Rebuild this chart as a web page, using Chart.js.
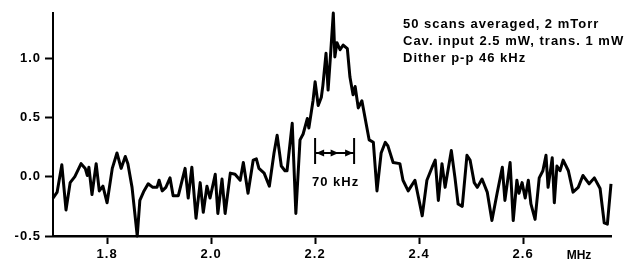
<!DOCTYPE html>
<html>
<head>
<meta charset="utf-8">
<script src="https://cdn.jsdelivr.net/npm/chart.js@4/dist/chart.umd.min.js"></script>
<style>
  html, body { margin: 0; padding: 0; background: #fff; }
  #wrap { width: 625px; height: 271px; position: relative; }
</style>
</head>
<body>
<div id="wrap"><canvas id="chart"></canvas></div>
<script>
// Averaged cavity scan (MHz vs. signal).
const freqMHz = [
  1.696, 1.704, 1.713, 1.721, 1.729, 1.738, 1.750, 1.758, 1.762, 1.765,
  1.771, 1.779, 1.785, 1.792, 1.800, 1.810, 1.819, 1.827, 1.835, 1.840,
  1.848, 1.858, 1.863, 1.871, 1.879, 1.888, 1.896, 1.900, 1.906, 1.913,
  1.921, 1.927, 1.937, 1.950, 1.956, 1.963, 1.971, 1.979, 1.985, 1.992,
  1.998, 2.008, 2.013, 2.021, 2.027, 2.037, 2.046, 2.056, 2.062, 2.071,
  2.081, 2.087, 2.092, 2.102, 2.112, 2.121, 2.127, 2.135, 2.142, 2.146,
  2.156, 2.163, 2.171, 2.177, 2.185, 2.188, 2.196, 2.200, 2.206, 2.212,
  2.215, 2.221, 2.225, 2.229, 2.235, 2.238, 2.242, 2.248, 2.254, 2.262,
  2.267, 2.273, 2.277, 2.283, 2.290, 2.298, 2.304, 2.312, 2.319, 2.327,
  2.335, 2.340, 2.350, 2.363, 2.369, 2.379, 2.392, 2.406, 2.415, 2.425,
  2.431, 2.437, 2.444, 2.450, 2.462, 2.469, 2.475, 2.483, 2.492, 2.498,
  2.506, 2.512, 2.521, 2.531, 2.540, 2.550, 2.560, 2.565, 2.575, 2.581,
  2.588, 2.592, 2.598, 2.604, 2.610, 2.615, 2.623, 2.631, 2.638, 2.644,
  2.648, 2.656, 2.660, 2.665, 2.671, 2.677, 2.687, 2.696, 2.706, 2.715,
  2.727, 2.737, 2.748, 2.756, 2.762, 2.769
];
const signal = [
  -0.18, -0.13, 0.10, -0.28, -0.05, 0.00, 0.11, 0.07, 0.01, 0.08,
  -0.15, 0.11, -0.12, -0.08, -0.22, 0.07, 0.20, 0.07, 0.17, 0.11,
  -0.09, -0.50, -0.20, -0.12, -0.06, -0.09, -0.09, -0.03, -0.12, -0.09,
  -0.01, -0.16, -0.16, 0.07, -0.18, 0.08, -0.35, -0.05, -0.30, -0.08,
  -0.18, 0.02, -0.31, -0.02, -0.31, 0.03, 0.02, -0.03, 0.12, -0.14,
  0.14, 0.15, 0.07, 0.03, -0.08, 0.20, 0.35, 0.09, 0.05, 0.05,
  0.45, -0.31, 0.31, 0.36, 0.49, 0.41, 0.64, 0.80, 0.60, 0.67,
  0.77, 1.04, 0.73, 0.98, 1.38, 1.01, 1.13, 1.07, 1.11, 1.08,
  0.84, 0.69, 0.76, 0.58, 0.64, 0.45, 0.31, 0.29, -0.12, 0.20,
  0.29, 0.26, 0.12, 0.11, -0.03, -0.12, -0.03, -0.33, -0.03, 0.08,
  0.14, -0.20, 0.11, -0.09, 0.22, -0.01, -0.23, -0.25, 0.18, 0.14,
  -0.05, -0.09, -0.02, -0.13, -0.37, -0.14, 0.08, -0.20, 0.12, -0.37,
  -0.03, -0.14, -0.05, -0.18, -0.03, -0.23, -0.36, -0.01, 0.05, 0.18,
  -0.09, 0.16, -0.22, 0.09, 0.05, 0.14, 0.05, -0.13, -0.09, 0.01,
  -0.06, -0.01, -0.10, -0.39, -0.40, -0.06
];

const xTicks = [1.8, 2.0, 2.2, 2.4, 2.6];
const yTicks = [-0.5, 0.0, 0.5, 1.0];
const notes = ['50 scans averaged, 2 mTorr', 'Cav. input 2.5 mW, trans. 1 mW', 'Dither p-p 46 kHz'];
const markerFrom = 2.2;
const markerTo = 2.275;
const markerLabel = '70 kHz';
const unitLabel = 'MHz';

const FONT = "'Liberation Sans', Arial, sans-serif";

// the scanned figure has loose tracking; widen all text a little
const tracking = {
  id: 'tracking',
  beforeDraw(chart) { chart.ctx.letterSpacing = '1px'; },
  afterDraw(chart) { chart.ctx.letterSpacing = '0px'; },
};

// notes, unit label and the width marker
const annotations = {
  id: 'annotations',
  afterDraw(chart) {
    const ctx = chart.ctx;
    const x = chart.scales.x, y = chart.scales.y;
    ctx.save();
    ctx.letterSpacing = '1px';
    ctx.fillStyle = '#000';
    ctx.strokeStyle = '#000';
    ctx.font = `bold 13px ${FONT}`;
    ctx.textBaseline = 'middle';
    ctx.textAlign = 'left';
    notes.forEach((s, i) => ctx.fillText(s, 403, 24 + i * 17));

    ctx.textAlign = 'center';
    ctx.letterSpacing = '0px';
    ctx.font = `bold 12px ${FONT}`;
    ctx.fillText(unitLabel, 579, 256);

    const x1 = x.getPixelForValue(markerFrom), x2 = x.getPixelForValue(markerTo);
    const ym = y.getPixelForValue(0.2);
    ctx.lineWidth = 2;
    ctx.beginPath();
    ctx.moveTo(x1, ym - 15); ctx.lineTo(x1, ym + 11);
    ctx.moveTo(x2, ym - 15); ctx.lineTo(x2, ym + 11);
    ctx.moveTo(x1, ym); ctx.lineTo(x2, ym);
    ctx.stroke();
    const head = (tip, dir) => {
      ctx.beginPath();
      ctx.moveTo(tip, ym);
      ctx.lineTo(tip - dir * 8, ym - 3.5);
      ctx.lineTo(tip - dir * 8, ym + 3.5);
      ctx.closePath();
      ctx.fill();
    };
    head(x1 + 1, -1);
    head(x2 - 1, 1);
    head((x1 + x2) / 2 + 4, 1);
    ctx.letterSpacing = '1px';
    ctx.font = `bold 13px ${FONT}`;
    ctx.fillText(markerLabel, (x1 + x2) / 2 + 1, y.getPixelForValue(-0.05));
    ctx.restore();
  }
};

new Chart(document.getElementById('chart'), {
  type: 'line',
  data: {
    datasets: [{
      data: freqMHz.map((f, i) => ({ x: f, y: signal[i] })),
      borderColor: '#000',
      borderWidth: 3,
      borderJoinStyle: 'round',
      pointRadius: 0,
      tension: 0,
      clip: false,
    }],
  },
  options: {
    responsive: true, maintainAspectRatio: false,
    animation: false,
    layout: { padding: { top: 13, right: 14, left: 0, bottom: 0 } },
    plugins: { legend: { display: false }, tooltip: { enabled: false } },
    scales: {
      x: {
        type: 'linear',
        min: 1.696, max: 2.769,
        afterBuildTicks: (s) => { s.ticks = xTicks.map((v) => ({ value: v })); },
        afterFit: (s) => { s.height = 35; },
        grid: { drawOnChartArea: false, drawTicks: true, tickLength: 8, tickWidth: 2, tickColor: '#000' },
        border: { display: true, color: '#000', width: 2.5 },
        ticks: { color: '#000', padding: 3, maxRotation: 0, font: { family: FONT, size: 13, weight: 'bold' },
          callback: (v) => Number(v).toFixed(1) },
      },
      y: {
        min: -0.5, max: 1.38,
        afterBuildTicks: (s) => { s.ticks = yTicks.map((v) => ({ value: v })); },
        afterFit: (s) => { s.width = 53; },
        grid: { drawOnChartArea: false, drawTicks: true, tickLength: 8, tickWidth: 2, tickColor: '#000' },
        border: { display: true, color: '#000', width: 2 },
        ticks: { color: '#000', padding: 4, font: { family: FONT, size: 13, weight: 'bold' },
          callback: (v) => Number(v).toFixed(1) },
      },
    },
  },
  plugins: [tracking, annotations],
});
</script>
</body>
</html>
